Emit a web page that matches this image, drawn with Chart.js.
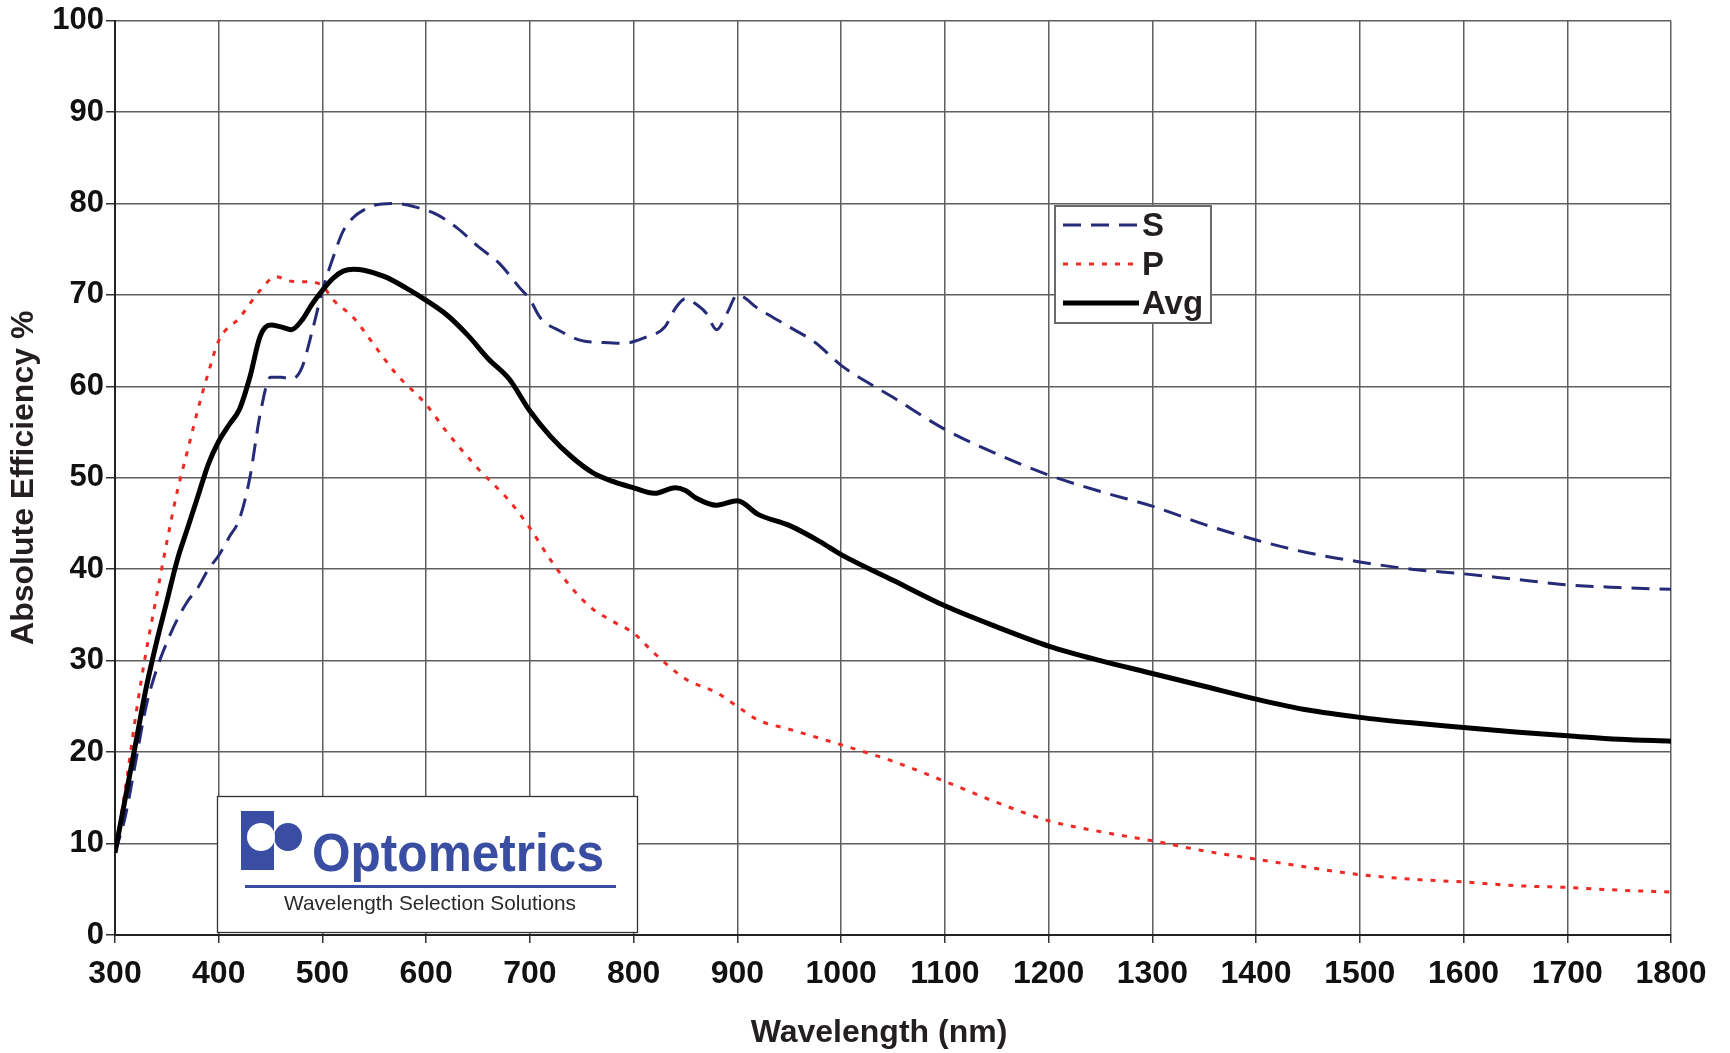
<!DOCTYPE html>
<html>
<head>
<meta charset="utf-8">
<title>Absolute Efficiency</title>
<script src="https://cdn.jsdelivr.net/npm/chart.js@4.4.1/dist/chart.umd.min.js"></script>
<style>
  body { margin: 0; background: #fff; }
  #wrap { position: relative; width: 1730px; height: 1053px; }
</style>
</head>
<body>
<div id="wrap"><canvas id="effChart" width="1730" height="1053"></canvas></div>
<script>
// efficiency curves (wavelength nm / efficiency %)

var sWave = [300,310,320,330,340,350,360,370,380,390,400,410,420,430,440,450,460,470,480,490,500,510,520,530,540,550,570,590,610,630,650,670,690,700,710,730,750,770,790,810,830,840,850,860,870,880,890,900,920,950,975,1000,1050,1100,1150,1200,1250,1300,1350,1400,1450,1500,1550,1600,1650,1700,1750,1800];
var sEff  = [9,13,19,25,29,32,34.5,36.5,38,40,41.5,43.5,45.5,50,57,61,61,60.8,62,66,70.5,74,77,78.5,79.3,79.8,80,79.6,78.8,77.3,75.3,73.5,70.8,69.5,67.5,66,65,64.8,64.7,65.3,66.5,68.5,69.6,69,68,66.2,68,70,68.5,66.5,64.8,62.3,58.8,55.3,52.6,50.3,48.5,46.9,44.9,43.2,41.8,40.8,40,39.5,38.9,38.3,38,37.8];

var pWave = [300,310,320,330,340,350,360,370,380,390,400,420,440,455,470,490,500,510,530,550,570,600,620,650,680,700,720,740,760,780,800,820,850,880,900,920,950,1000,1050,1100,1150,1200,1250,1300,1350,1400,1450,1500,1550,1600,1650,1700,1750,1800];
var pEff  = [9,16,24,31,37,43,48.5,53,57.5,61.5,65,67.5,70.5,72,71.5,71.4,71,69.5,67.5,64.5,61.5,58,55,51,47.5,44.5,41,38,35.7,34.3,33,30.8,28,26.5,25,23.5,22.5,20.8,19,16.8,14.5,12.5,11.3,10.3,9.2,8.3,7.4,6.6,6.1,5.8,5.4,5.2,4.9,4.7];

var avgWave = [300,310,320,330,340,350,360,370,380,390,400,410,420,430,440,450,460,470,480,490,500,510,520,530,540,560,580,600,620,640,660,680,700,720,740,760,780,800,820,840,850,860,880,900,920,950,980,1000,1050,1100,1150,1200,1250,1300,1350,1400,1450,1500,1550,1600,1650,1700,1750,1800];
var avgEff  = [9,15,21,27,32,36.5,41,44.5,48,51.5,54,55.8,57.5,61,65.5,66.7,66.5,66.2,67.2,69,70.5,71.8,72.6,72.8,72.7,72,70.8,69.4,67.8,65.6,63,60.8,57.3,54.5,52.3,50.6,49.6,48.9,48.3,48.9,48.6,47.8,47,47.5,46,44.8,43,41.6,38.8,36,33.7,31.6,30,28.6,27.2,25.8,24.6,23.8,23.2,22.7,22.2,21.8,21.4,21.2];

var seriesLabels = ['S', 'P', 'Avg'];
var seriesColors = ['#262b78', '#ee2a24', '#000000'];

var xTicks = { min: 300, max: 1800, step: 100 };
var yTicks = { min: 0, max: 100, step: 10 };

var xTitle = 'Wavelength (nm)';
var yTitle = 'Absolute Efficiency %';

var chartInstances = {};

// build {x,y} pairs for a line
function toPoints(xs, ys) {
    var pts = [];
    for (var i = 0; i < xs.length; i++) {
        pts.push({ x: xs[i], y: ys[i] });
    }
    return pts;
}

var fontFamily = '"Liberation Sans", Arial, sans-serif';
var gridColor = '#5f5f5f';
var inkColor = '#231f20';

// legend box inside the plot, drawn from the dataset styles
var boxLegend = {
    id: 'boxLegend',
    afterDatasetsDraw: function (chart) {
        var ctx = chart.ctx;
        ctx.save();
        ctx.fillStyle = '#fff';
        ctx.fillRect(1055, 206, 156, 117);
        ctx.strokeStyle = '#6a6a6a';
        ctx.lineWidth = 2;
        ctx.strokeRect(1055, 206, 156, 117);
        var rows = [225, 264, 303];
        chart.data.datasets.forEach(function (ds, i) {
            ctx.beginPath();
            ctx.strokeStyle = ds.borderColor;
            ctx.lineWidth = ds.borderWidth;
            ctx.setLineDash(ds.borderDash || []);
            ctx.moveTo(1063, rows[i]);
            ctx.lineTo(1139, rows[i]);
            ctx.stroke();
            ctx.setLineDash([]);
            ctx.fillStyle = inkColor;
            ctx.font = 'bold 33px ' + fontFamily;
            ctx.textBaseline = 'middle';
            ctx.fillText(ds.label, 1142, rows[i] + 2);
        });
        ctx.restore();
    }
};

// company logo panel in the lower left + x axis title
var logoPanel = {
    id: 'logoPanel',
    afterDraw: function (chart) {
        var ctx = chart.ctx;
        var blue = '#394ea2';
        ctx.save();
        ctx.fillStyle = '#fff';
        ctx.fillRect(217, 796, 420, 137);
        ctx.strokeStyle = '#333';
        ctx.lineWidth = 1.3;
        ctx.strokeRect(217.5, 796.5, 420, 136);

        ctx.fillStyle = blue;
        ctx.fillRect(241, 811, 33, 59);
        ctx.beginPath();
        ctx.arc(288, 837, 14, 0, Math.PI * 2);
        ctx.fill();
        ctx.fillStyle = '#fff';
        ctx.beginPath();
        ctx.arc(261, 837, 14, 0, Math.PI * 2);
        ctx.fill();

        ctx.fillStyle = blue;
        ctx.font = 'bold 54px ' + fontFamily;
        ctx.textBaseline = 'alphabetic';
        ctx.fillText('Optometrics', 312, 871, 292);
        ctx.fillRect(245, 885, 371, 3);

        ctx.fillStyle = '#2a2a2a';
        ctx.font = '21px ' + fontFamily;
        ctx.fillText('Wavelength Selection Solutions', 284, 910, 292);

        // x axis title sits a little left of the plot centre in the original
        ctx.fillStyle = inkColor;
        ctx.font = 'bold 32px ' + fontFamily;
        ctx.textAlign = 'center';
        ctx.textBaseline = 'middle';
        ctx.fillText(xTitle, 879, 1033);
        ctx.restore();
    }
};

function drawChart(id) {
    if (chartInstances[id]) {
        chartInstances[id].destroy();
    }
    var ctx = document.getElementById(id) ? document.getElementById(id).getContext('2d') : null;
    if (!ctx) return;

    var data = {
        datasets: [
            {
                label: seriesLabels[0],
                data: toPoints(sWave, sEff),
                borderColor: seriesColors[0],
                borderWidth: 3,
                borderDash: [18, 10],
                order: 2
            },
            {
                label: seriesLabels[1],
                data: toPoints(pWave, pEff),
                borderColor: seriesColors[1],
                borderWidth: 3,
                borderDash: [5, 8],
                order: 1
            },
            {
                label: seriesLabels[2],
                data: toPoints(avgWave, avgEff),
                borderColor: seriesColors[2],
                borderWidth: 5,
                order: 0
            }
        ]
    };

    var options = {
        responsive: false,
        animation: false,
        devicePixelRatio: 1,
        layout: { padding: { top: 19, right: 59, left: 0, bottom: 0 } },
        elements: {
            point: { radius: 0 },
            line: { fill: false, cubicInterpolationMode: 'monotone', borderJoinStyle: 'round' }
        },
        plugins: {
            legend: { display: false },
            tooltip: { enabled: false }
        },
        scales: {
            x: {
                type: 'linear',
                min: xTicks.min,
                max: xTicks.max,
                ticks: {
                    stepSize: xTicks.step,
                    font: { family: fontFamily, size: 32, weight: 'bold' },
                    color: '#111',
                    padding: 12,
                    callback: function (v) { return String(v); }
                },
                grid: { color: gridColor, lineWidth: 1.5, tickLength: 8, tickColor: '#333' },
                border: { color: '#222', width: 2 },
                afterFit: function (scale) { scale.height = 118; }
            },
            y: {
                min: yTicks.min,
                max: yTicks.max,
                ticks: {
                    stepSize: yTicks.step,
                    font: { family: fontFamily, size: 31, weight: 'bold' },
                    color: '#111',
                    padding: 2
                },
                grid: { color: gridColor, lineWidth: 1.5, tickLength: 9, tickColor: '#333' },
                border: { color: '#222', width: 2 },
                title: {
                    display: true,
                    text: yTitle,
                    font: { family: fontFamily, size: 32, weight: 'bold' },
                    color: inkColor,
                    padding: { top: 5, bottom: 0 }
                },
                afterFit: function (scale) { scale.width = 115; }
            }
        }
    };

    chartInstances[id] = new Chart(ctx, {
        type: 'line',
        data: data,
        options: options,
        plugins: [boxLegend, logoPanel]
    });
}

drawChart('effChart');
</script>
</body>
</html>
